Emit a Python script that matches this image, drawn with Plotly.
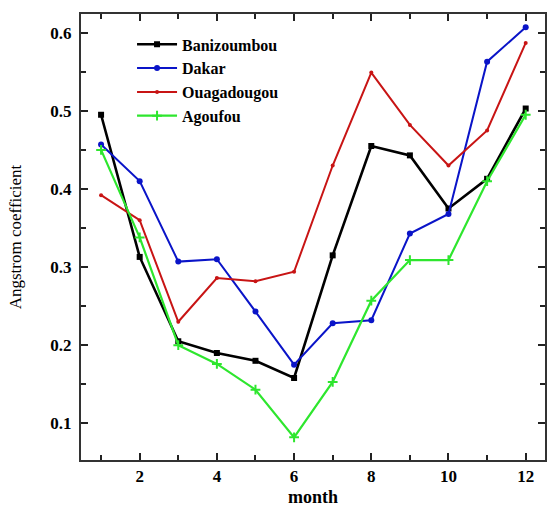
import plotly.graph_objects as go

months = [1, 2, 3, 4, 5, 6, 7, 8, 9, 10, 11, 12]
banizoumbou = [0.495, 0.313, 0.205, 0.190, 0.180, 0.158, 0.315, 0.455, 0.443, 0.375, 0.413, 0.503]
dakar = [0.457, 0.410, 0.307, 0.310, 0.243, 0.175, 0.228, 0.232, 0.343, 0.368, 0.563, 0.607]
ouagadougou = [0.392, 0.360, 0.230, 0.286, 0.282, 0.294, 0.430, 0.549, 0.482, 0.430, 0.475, 0.587]
agoufou = [0.450, 0.338, 0.200, 0.176, 0.143, 0.082, 0.153, 0.257, 0.309, 0.309, 0.410, 0.495]

series = [
    ("Banizoumbou", banizoumbou, "#000000", dict(symbol="square", size=6), 2.6),
    ("Dakar", dakar, "#0a14c8", dict(symbol="circle", size=6), 2.0),
    ("Ouagadougou", ouagadougou, "#c81414", dict(symbol="circle", size=4), 2.0),
    ("Agoufou", agoufou, "#2ee62e", dict(symbol="cross-thin", size=7, line=dict(width=2, color="#2ee62e")), 2.2),
]

fig = go.Figure()
for name, vals, color, mk, w in series:
    m = dict(color=color, **mk)
    fig.add_trace(go.Scatter(x=months, y=vals, name=name, mode="lines+markers",
                             line=dict(color=color, width=w), marker=m))

FF = "Times New Roman"
fig.update_layout(
    width=547, height=507,
    margin=dict(l=81, r=2, t=14, b=47, autoexpand=False),
    paper_bgcolor="white", plot_bgcolor="white",
    font=dict(family=FF, color="black"),
    showlegend=True,
    legend=dict(x=0.11, y=0.97, xanchor="left", yanchor="top",
                bgcolor="rgba(0,0,0,0)", font=dict(size=16, family=FF, color="black", weight="bold"),
                tracegroupgap=0, itemwidth=40),
)
fig.update_xaxes(
    range=[0.48, 12.5], tickmode="linear", tick0=0, dtick=2,
    ticks="inside", ticklen=7, tickwidth=1.5, tickcolor="#222",
    minor=dict(dtick=1, tick0=1, ticks="inside", ticklen=5, tickwidth=1.5, tickcolor="#222"),
    showline=True, linecolor="#333", linewidth=2, mirror="ticks",
    showgrid=False, zeroline=False, automargin=False,
    tickfont=dict(size=17, family=FF, color="black", weight="bold"),
    title=dict(text="month", font=dict(size=18, family=FF, color="black", weight="bold"), standoff=8),
)
fig.update_yaxes(
    range=[0.053, 0.624], tickmode="linear", tick0=0, dtick=0.1, tickformat=".1f",
    ticks="inside", ticklen=7, tickwidth=1.5, tickcolor="#222",
    minor=dict(dtick=0.05, ticks="inside", ticklen=5, tickwidth=1.5, tickcolor="#222"),
    showline=True, linecolor="#333", linewidth=2, mirror="ticks",
    showgrid=False, zeroline=False, automargin=False,
    ticklabelstandoff=4,
    tickfont=dict(size=17, family=FF, color="black", weight="bold"),
    title=dict(text="Angstrom coefficient", font=dict(size=17, family=FF, color="black"), standoff=24),
)

fig.write_html("out.html", config={"displayModeBar": False},
               post_script="document.body.style.margin='0';document.body.style.padding='0';")
